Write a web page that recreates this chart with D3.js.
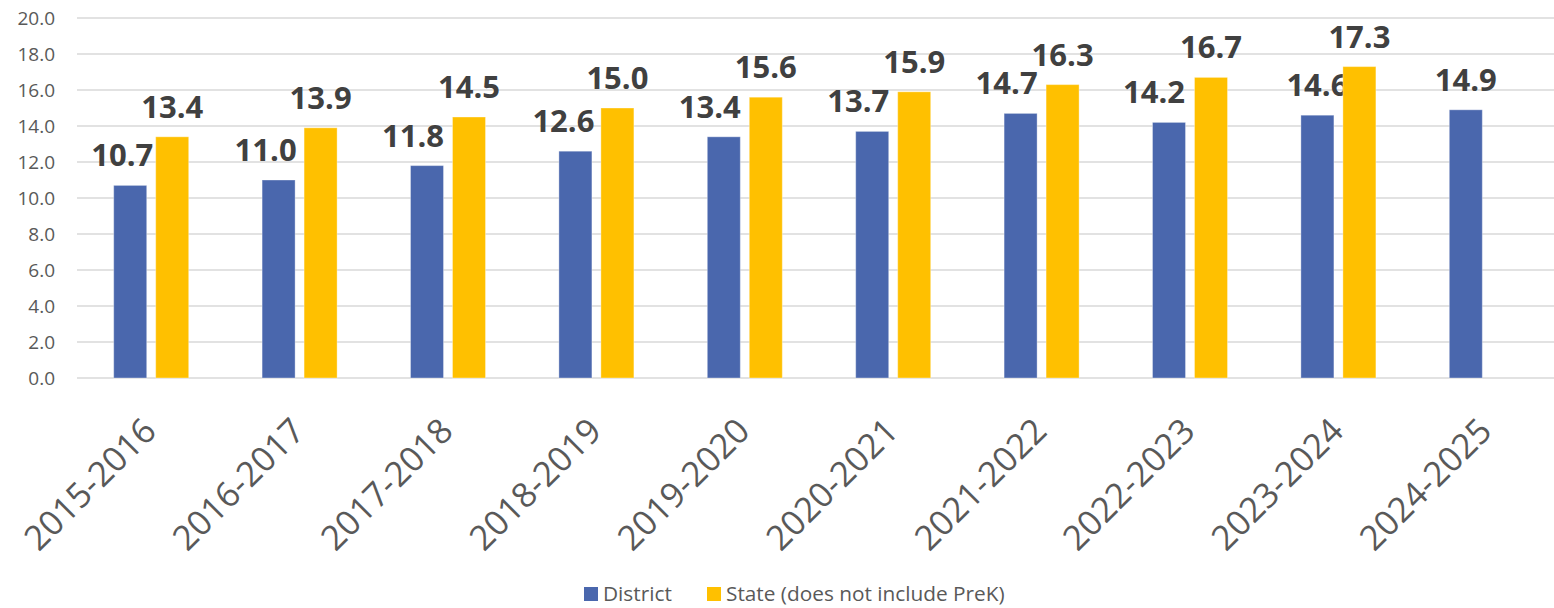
<!DOCTYPE html>
<html>
<head>
<meta charset="utf-8">
<script src="https://cdn.jsdelivr.net/npm/d3@7"></script>
<style>
  body { margin: 0; background: #fff; }
  svg { display: block; font-family: 'Open Sans', sans-serif; }
</style>
</head>
<body>
<div id="chart"></div>
<script>
// Chart data.
const years = ['2015-2016', '2016-2017', '2017-2018', '2018-2019', '2019-2020',
               '2020-2021', '2021-2022', '2022-2023', '2023-2024', '2024-2025'];
const district = [10.7, 11.0, 11.8, 12.6, 13.4, 13.7, 14.7, 14.2, 14.6, 14.9];
const state = [13.4, 13.9, 14.5, 15.0, 15.6, 15.9, 16.3, 16.7, 17.3, null];
const seriesNames = ['District', 'State (does not include PreK)'];
const yTicks = [0, 2, 4, 6, 8, 10, 12, 14, 16, 18, 20];

// Nudges for the district labels, they were pushed aside in the original.
const districtLabelDx = [-8, -13, -14, -12, -14, -14, -14, -15, 0, 0];

const colors = ['#4a67ad', '#ffc000'];

// Visualization size.
const width = 1554;
const height = 608;

const vis = d3.select('#chart')
  .append('svg')
  .attr('width', width)
  .attr('height', height);

// Scales. The plot runs past the right edge, the picture is cropped.
const x = d3.scaleBand()
  .domain(years)
  .range([77, 1561]);

const x1 = d3.scaleBand()
  .domain(seriesNames)
  .range([x.bandwidth() / 2 - 37.5, x.bandwidth() / 2 + 37.5])
  .paddingInner(0.214);

const y = d3.scaleLinear()
  .domain([0, 20])
  .range([378, 18]);

// Gridlines.
vis.append('g')
  .classed('grid', true)
  .selectAll('line')
  .data(yTicks)
  .enter()
  .append('line')
  .attr('x1', 77)
  .attr('x2', width)
  .attr('y1', d => y(d))
  .attr('y2', d => y(d))
  .style('stroke', '#d9d9d9')
  .style('stroke-width', 1.5);

// Y axis labels.
const yAxis = vis.append('g')
  .attr('transform', 'translate(55, 0)')
  .call(d3.axisLeft(y).tickValues(yTicks).tickFormat(d3.format('.1f')).tickSize(0).tickPadding(0));
yAxis.select('.domain').remove();
yAxis.selectAll('text')
  .attr('dy', '0.36em')
  .style('font-family', "'Open Sans', sans-serif")
  .style('font-size', '19px')
  .style('fill', '#595959');

// One group per school year.
const groups = vis.append('g')
  .selectAll('g')
  .data(years)
  .enter()
  .append('g')
  .attr('transform', d => `translate(${x(d)}, 0)`);

const rows = years.map((yr, i) => [
  { key: seriesNames[0], value: district[i], dx: districtLabelDx[i], c: colors[0] },
  { key: seriesNames[1], value: state[i], dx: 0, c: colors[1] }
].filter(d => d.value !== null));

const bars = groups.selectAll('g.bar')
  .data((d, i) => rows[i])
  .enter()
  .append('g')
  .classed('bar', true);

bars.append('rect')
  .attr('x', d => x1(d.key))
  .attr('y', d => y(d.value))
  .attr('width', x1.bandwidth())
  .attr('height', d => y(0) - y(d.value))
  .style('fill', d => d.c)
  .style('stroke', '#fff')
  .style('stroke-opacity', 0.35)
  .style('stroke-width', 1);

// Value labels.
bars.append('text')
  .text(d => d3.format('.1f')(d.value))
  .attr('x', d => x1(d.key) + x1.bandwidth() / 2 + d.dx)
  .attr('y', d => y(d.value) - 19)
  .style('text-anchor', 'middle')
  .style('font-size', '31px')
  .style('font-weight', 'bold')
  .style('fill', '#404040');

// Category labels, rotated.
vis.append('g')
  .selectAll('text')
  .data(years)
  .enter()
  .append('text')
  .text(d => d)
  .attr('transform', d => `translate(${x(d) + x.bandwidth() / 2 + 7}, 433) rotate(-45)`)
  .style('text-anchor', 'end')
  .style('font-size', '34.5px')
  .style('fill', '#595959');

// Legend.
const legendX = [584, 707];
const legend = vis.append('g')
  .selectAll('g')
  .data(seriesNames)
  .enter()
  .append('g')
  .attr('transform', (d, i) => `translate(${legendX[i]}, 587)`);

legend.append('rect')
  .attr('width', 14)
  .attr('height', 14)
  .style('fill', (d, i) => colors[i]);

legend.append('text')
  .text(d => d)
  .attr('x', 19)
  .attr('y', 14)
  .style('font-size', '20.8px')
  .style('fill', '#595959');
</script>
</body>
</html>
